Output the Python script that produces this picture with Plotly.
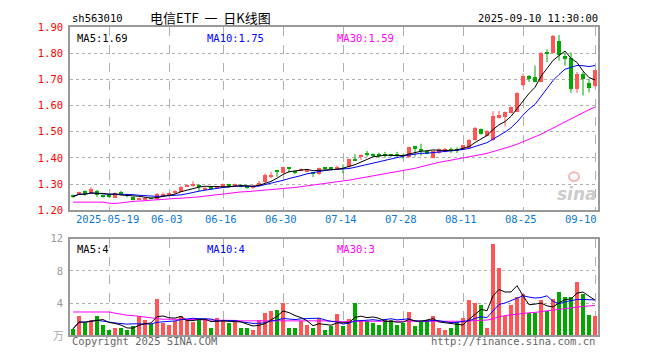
import plotly.graph_objects as go
import pandas as pd

# ---- data ----
opens = [1.258,1.262,1.274,1.265,1.273,1.257,1.257,1.249,1.272,1.257,
         1.250,1.240,1.243,1.246,1.242,1.256,1.260,1.268,1.272,1.291,
         1.296,1.298,1.279,1.288,1.288,1.287,1.299,1.292,1.298,1.291,
         1.284,1.293,1.307,1.329,1.353,1.344,1.363,1.348,1.351,1.347,
         1.343,1.338,1.362,1.362,1.355,1.360,1.364,1.394,1.403,1.415,
         1.412,1.411,1.412,1.414,1.411,1.410,1.402,1.445,1.432,1.425,
         1.400,1.419,1.424,1.432,1.432,1.431,1.439,1.467,1.509,1.484,
         1.467,1.552,1.556,1.572,1.577,1.679,1.712,1.710,1.691,1.803,
         1.802,1.848,1.789,1.783,1.663,1.722,1.688,1.673]
highs = [1.260,1.271,1.276,1.289,1.278,1.259,1.258,1.268,1.274,1.263,
         1.252,1.248,1.250,1.248,1.266,1.268,1.268,1.276,1.292,1.299,
         1.311,1.300,1.288,1.292,1.292,1.302,1.301,1.302,1.300,1.294,
         1.296,1.312,1.340,1.347,1.354,1.366,1.364,1.349,1.360,1.358,
         1.345,1.363,1.365,1.363,1.371,1.375,1.397,1.414,1.414,1.427,
         1.417,1.420,1.423,1.415,1.423,1.414,1.443,1.446,1.454,1.428,
         1.427,1.436,1.438,1.440,1.440,1.450,1.472,1.518,1.512,1.506,
         1.578,1.580,1.577,1.596,1.650,1.722,1.716,1.752,1.804,1.814,
         1.869,1.869,1.802,1.802,1.728,1.728,1.700,1.736]
lows = [1.247,1.261,1.255,1.262,1.251,1.248,1.248,1.247,1.258,1.249,
        1.238,1.238,1.241,1.242,1.240,1.252,1.258,1.262,1.270,1.289,
        1.290,1.273,1.277,1.280,1.286,1.285,1.288,1.290,1.287,1.282,
        1.282,1.291,1.304,1.322,1.328,1.342,1.343,1.338,1.349,1.345,
        1.327,1.335,1.353,1.358,1.353,1.340,1.362,1.388,1.392,1.404,
        1.404,1.402,1.402,1.404,1.402,1.396,1.400,1.405,1.408,1.414,
        1.398,1.416,1.421,1.418,1.418,1.429,1.436,1.465,1.489,1.482,
        1.465,1.550,1.520,1.570,1.575,1.673,1.690,1.689,1.689,1.765,
        1.798,1.771,1.752,1.648,1.648,1.638,1.650,1.670]
closes = [1.252,1.270,1.262,1.280,1.258,1.252,1.254,1.266,1.260,1.255,
          1.240,1.246,1.248,1.244,1.264,1.264,1.266,1.270,1.290,1.297,
          1.298,1.288,1.285,1.284,1.290,1.300,1.290,1.300,1.290,1.287,
          1.293,1.305,1.334,1.333,1.347,1.364,1.358,1.345,1.357,1.356,
          1.339,1.360,1.359,1.360,1.365,1.358,1.395,1.391,1.411,1.413,
          1.410,1.409,1.410,1.406,1.409,1.408,1.441,1.438,1.430,1.418,
          1.425,1.433,1.436,1.429,1.430,1.448,1.470,1.515,1.492,1.503,
          1.559,1.564,1.574,1.593,1.648,1.714,1.700,1.691,1.802,1.800,
          1.866,1.793,1.777,1.663,1.722,1.703,1.667,1.734]
ma30 = [1.231,1.231,1.231,1.231,1.231,1.231,1.227,1.226,1.228,1.232,
        1.234,1.235,1.237,1.238,1.240,1.242,1.243,1.245,1.246,1.247,
        1.249,1.251,1.254,1.257,1.260,1.263,1.266,1.268,1.270,1.271,
        1.273,1.274,1.276,1.277,1.279,1.281,1.284,1.287,1.290,1.293,
        1.296,1.299,1.301,1.304,1.307,1.311,1.315,1.319,1.323,1.327,
        1.331,1.334,1.338,1.342,1.346,1.350,1.355,1.360,1.366,1.372,
        1.378,1.383,1.387,1.391,1.395,1.399,1.404,1.408,1.412,1.417,
        1.424,1.430,1.437,1.444,1.452,1.461,1.469,1.478,1.490,1.502,
        1.514,1.526,1.539,1.550,1.562,1.573,1.584,1.594]
volumes = [0.8,2.5,1.6,1.9,2.5,1.3,0.7,1.0,0.9,0.7,
           1.2,2.4,2.0,1.4,4.6,1.6,1.3,1.8,2.5,1.9,
           1.7,1.9,2.1,0.9,2.2,1.9,1.6,1.7,0.9,0.9,
           0.7,2.0,2.8,3.1,3.2,4.0,1.0,1.0,1.8,1.3,
           0.9,2.2,0.7,1.2,2.7,1.2,2.1,4.0,1.9,1.8,
           1.6,1.3,2.1,1.9,1.3,1.6,3.0,1.2,1.7,2.0,
           2.5,0.9,0.7,0.9,1.7,2.2,4.4,4.0,3.8,0.9,
           11.4,8.4,2.4,3.8,4.8,5.2,2.8,2.8,4.4,3.1,
           4.5,5.4,4.8,4.8,6.7,5.2,2.6,2.5]
vol_ma30 = [2.9,2.9,2.9,2.9,2.9,2.9,2.9,2.75,2.6,2.5,
            2.45,2.35,2.3,2.15,2.05,2.0,2.0,2.0,2.0,2.0,
            2.0,1.95,1.9,1.9,1.9,1.9,1.9,1.85,1.8,1.8,
            1.8,1.8,1.8,1.8,1.8,1.85,1.85,1.85,1.85,1.85,
            1.85,1.85,1.8,1.75,1.7,1.7,1.7,1.75,1.75,1.75,
            1.75,1.75,1.75,1.75,1.75,1.75,1.75,1.75,1.75,1.75,
            1.75,1.75,1.75,1.7,1.7,1.75,1.8,1.85,1.9,1.9,
            2.05,2.3,2.45,2.55,2.65,2.75,2.8,2.85,2.95,3.05,
            3.15,3.25,3.3,3.4,3.5,3.6,3.65,3.7]
tick_idx = [6, 16, 25, 35, 45, 55, 65, 75, 87]
tick_labels = ["2025-05-19", "06-03", "06-16", "06-30", "07-14",
               "07-28", "08-11", "08-25", "09-10"]
price_ticks = [1.2, 1.3, 1.4, 1.5, 1.6, 1.7, 1.8, 1.9]
vol_ticks = [4, 8, 12]
price_ma_labels = ["MA5:1.69", "MA10:1.75", "MA30:1.59"]
vol_ma_labels = ["MA5:4", "MA10:4", "MA30:3"]

# ---- derived indicators ----
idx = list(range(len(closes)))
cs = pd.Series(closes)
ma5 = cs.rolling(5, min_periods=1).mean()
ma10 = cs.rolling(10, min_periods=1).mean()
vs = pd.Series(volumes)
vma5 = vs.rolling(5, min_periods=1).mean()
vma10 = vs.rolling(10, min_periods=1).mean()

RED = "#ff5555"
GREEN = "#00a800"
up = [c >= o for o, c in zip(opens, closes)]
colors = [RED if u else GREEN for u in up]

MONO = "DejaVu Sans Mono"
fig = go.Figure()

# wicks
for flag, col in [(True, RED), (False, GREEN)]:
    wx, wy = [], []
    for i in idx:
        if up[i] == flag:
            wx += [i, i, None]
            wy += [lows[i], highs[i], None]
    fig.add_trace(go.Scatter(x=wx, y=wy, mode="lines", line=dict(color=col, width=1),
                             xaxis="x", yaxis="y", showlegend=False, hoverinfo="skip"))
# bodies
body_base = [min(o, c) for o, c in zip(opens, closes)]
body_len = [max(abs(c - o), 0.0025) for o, c in zip(opens, closes)]
fig.add_trace(go.Bar(x=idx, y=body_len, base=body_base, width=0.82,
                     marker=dict(color=colors, line=dict(width=0)),
                     xaxis="x", yaxis="y", showlegend=False))
for s, col in [(ma30, "#ff00ff"), (ma10, "#0000ff"), (ma5, "#000000")]:
    fig.add_trace(go.Scatter(x=idx, y=list(s), mode="lines",
                             line=dict(color=col, width=1),
                             xaxis="x", yaxis="y", showlegend=False))
fig.add_trace(go.Bar(x=idx, y=volumes, marker=dict(color=colors, line=dict(width=0)),
                     width=0.82, xaxis="x2", yaxis="y2", showlegend=False))
for s, col in [(vol_ma30, "#ff00ff"), (vma10, "#0000ff"), (vma5, "#000000")]:
    fig.add_trace(go.Scatter(x=idx, y=list(s), mode="lines",
                             line=dict(color=col, width=1),
                             xaxis="x2", yaxis="y2", showlegend=False))

W, H = 660, 360
def px(x):
    return x / W
def py(y):
    return 1 - y / H

xdom = [px(70), px(598)]
axis_common = dict(showline=True, linecolor="#999999", linewidth=1.5, mirror=True,
                   zeroline=False, fixedrange=True)
fig.update_layout(
    width=W, height=H, margin=dict(l=0, r=0, t=0, b=0),
    paper_bgcolor="white", plot_bgcolor="white", bargap=0, barmode="overlay",
    xaxis=dict(domain=xdom, range=[-0.5, 87.5], tickvals=tick_idx, showticklabels=False,
               showgrid=True, gridcolor="#b0b0b0", griddash="dash", gridwidth=1,
               anchor="y", ticks="", **axis_common),
    yaxis=dict(domain=[py(211.3), py(21.6)], range=[1.2, 1.9], tickvals=price_ticks,
               ticktext=["%.2f" % v for v in price_ticks],
               tickfont=dict(family=MONO, size=10.5, color="#ff0000"),
               showgrid=True, gridcolor="#b0b0b0", griddash="dot", gridwidth=1,
               anchor="x", ticks="", ticklabelstandoff=3, **axis_common),
    xaxis2=dict(domain=xdom, range=[-0.5, 87.5], tickvals=tick_idx, showticklabels=False,
                showgrid=True, gridcolor="#b0b0b0", griddash="dash", gridwidth=1,
                anchor="y2", ticks="", **axis_common),
    yaxis2=dict(domain=[py(340.7), py(240.7)], range=[0, 12], tickvals=vol_ticks,
                tickfont=dict(family=MONO, size=10.5, color="#999999"),
                showgrid=True, gridcolor="#b0b0b0", griddash="dot", gridwidth=1,
                anchor="x2", ticks="", ticklabelstandoff=3, **axis_common),
)

ann = []
def text(x, y, s, color="#000000", size=10.5, family=MONO, xanchor="left", **kw):
    ann.append(dict(x=px(x), y=py(y), xref="paper", yref="paper", text=s, showarrow=False,
                    xanchor=xanchor, yanchor="middle",
                    font=dict(family=family, size=size, color=color), **kw))

text(70, 12, "sh563010")
text(210, 12, "电信ETF&nbsp;&nbsp;一&nbsp;&nbsp;日K线图", family="Noto Sans CJK SC",
     size=13, xanchor="center")
text(600, 12, "2025-09-10 11:30:00", xanchor="right")
for x0, lab, col in zip([75, 205, 335], price_ma_labels, ["#000000", "#0000ff", "#ff00ff"]):
    text(x0, 33, lab, color=col)
for x0, lab, col in zip([75, 205, 335], vol_ma_labels, ["#000000", "#0000ff", "#ff00ff"]):
    text(x0, 251, lab, color=col)
text(66, 340, "万", color="#aaaaaa", family="Noto Sans CJK SC", size=11, xanchor="right")
text(70, 347, "Copyright 2025 SINA.COM", color="#666666")
text(597, 347, "http://finance.sina.com.cn", color="#666666", xanchor="right")
text(577, 194, "<b><i>sina</i></b>", color="#cccccc", family="DejaVu Sans", size=17,
     xanchor="center")
for i, (t, lab) in enumerate(zip(tick_idx, tick_labels)):
    shift = -14 if i == len(tick_idx) - 1 else -2
    ann.append(dict(x=t, y=py(220), xref="x", yref="paper", text=lab, showarrow=False,
                    xanchor="center", yanchor="middle", xshift=shift,
                    font=dict(family=MONO, size=10.5, color="#0a78d2")))
fig.update_layout(annotations=ann)
fig.add_shape(type="circle", xref="paper", yref="paper",
              x0=px(569), x1=px(579), y0=py(181), y1=py(172),
              line=dict(color="#f2b8b8", width=2))

fig.write_html("out.html", config={"displayModeBar": False},
               post_script="document.body.style.margin='0px';")
